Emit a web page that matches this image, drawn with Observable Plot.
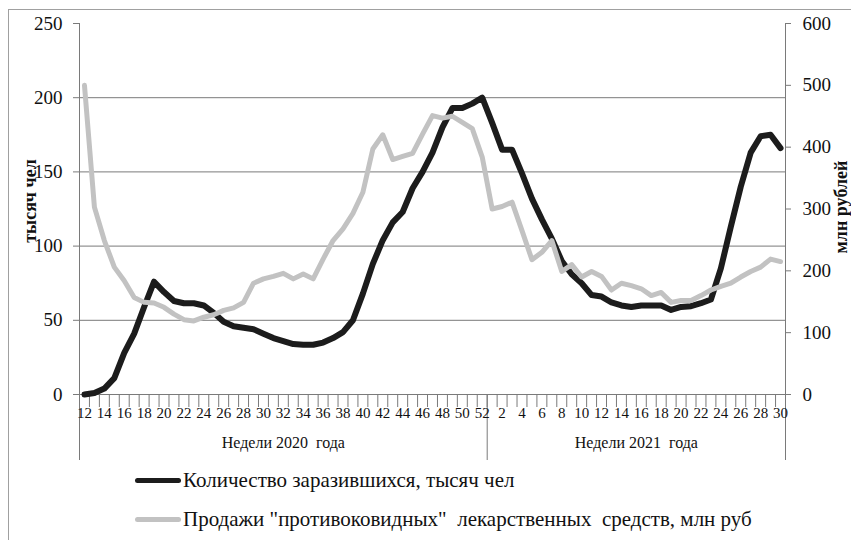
<!DOCTYPE html>
<html><head><meta charset="utf-8">
<script src="https://cdn.jsdelivr.net/npm/d3@7"></script>
<script src="https://cdn.jsdelivr.net/npm/@observablehq/plot@0.6"></script>
<style>
body{margin:0;background:#fff;}
#wrap{position:relative;width:851px;height:540px;overflow:hidden;font-family:"Liberation Serif","Times New Roman",serif;color:#111;}
#frame{position:absolute;left:8px;top:9px;width:900px;height:600px;border-top:1px solid #a0a0a0;border-left:1px solid #a0a0a0;}
#chart{position:absolute;left:0;top:0;}
.leg{position:absolute;left:135px;height:24px;font-size:21px;white-space:pre;display:flex;align-items:center;}
.sw{display:inline-block;width:46px;height:5px;border-radius:3px;margin-right:2px;}
</style></head>
<body><div id="wrap"><div id="frame"></div><div id="chart"></div></div>
<script>
// Week labels (2020 weeks 12..52, then 2021 weeks 1..30)
const weeks = [12,13,14,15,16,17,18,19,20,21,22,23,24,25,26,27,28,29,30,31,32,33,34,35,36,37,38,39,40,41,42,43,44,45,46,47,48,49,50,51,52,
               1,2,3,4,5,6,7,8,9,10,11,12,13,14,15,16,17,18,19,20,21,22,23,24,25,26,27,28,29,30];
const years = [2020,2020,2020,2020,2020,2020,2020,2020,2020,2020,2020,2020,2020,2020,2020,2020,2020,2020,2020,2020,2020,2020,2020,2020,2020,2020,2020,2020,2020,2020,2020,2020,2020,2020,2020,2020,2020,2020,2020,2020,2020,
               2021,2021,2021,2021,2021,2021,2021,2021,2021,2021,2021,2021,2021,2021,2021,2021,2021,2021,2021,2021,2021,2021,2021,2021,2021,2021,2021,2021,2021,2021];
// Infected, thousand people (left axis)
const cases = [0,1,4,11,28,41,59,76,69,63,61.5,61.5,60,55,49,46,45,44,41,38,36,34,33.5,33.5,35,38,42,50,68,88,104,116,123,139,150,163,180,193,193,196,200,
               183,165,165,149,132,118,105,90,81,75,67,66,62,60,59,60,60,60,57,59,59.5,61.5,64,85,113,140,163,174,175,166];
// Sales of "anti-covid" drugs, mln rub (right axis)
const sales = [500,303,249,206,184,157,149,148,141,130,121,119,125,129,136,140,149,180,187,191,196,187,195,187,219,249,268,293,327,397,420,380,385,390,421,451,447,450,440,430,384,
               300,304,311,265,218,230,249,199,210,190,199,191,169,180,176,171,160,165,149,152,152,160,169,175,180,190,199,206,219,215];
const leftTicks = [0,50,100,150,200,250];
const rightTicks = [0,100,200,300,400,500,600];
const gridTicks = [50,100,150,200];
const groupNames = ["Недели 2020  года","Недели 2021  года"];
const groupYears = [2020,2021];
const seriesNames = ["Количество заразившихся, тысяч чел","Продажи \"противоковидных\"  лекарственных  средств, млн руб"];
const seriesColors = ["#1c1c1c","#c2c2c2"];
const leftTitle = "тысяч чел";
const rightTitle = "млн рублей";

const LEFT_MAX = 250, RIGHT_MAX = 600;
const k = LEFT_MAX / RIGHT_MAX;
const data = weeks.map((w,i)=>({i, w, year: years[i], cases: cases[i], sales: sales[i]}));
const n = data.length;
const boundaries = d3.range(n+1).map(j=>j-0.5);
const labelIdx = d3.range(0,n,2);
const groups = groupYears.map((y,gi)=>{
  const idx = data.filter(d=>d.year===y).map(d=>d.i);
  return {name: groupNames[gi], lo: d3.min(idx)-0.5, hi: d3.max(idx)+0.5, mid: (d3.min(idx)+d3.max(idx))/2};
});
const dividers = [groups[0].lo, ...groups.map(g=>g.hi)];
const font = '"Liberation Serif","Times New Roman",serif';

const chart = Plot.plot({
  width: 851, height: 465,
  marginLeft: 79, marginRight: 66, marginTop: 23, marginBottom: 71,
  x: {type:"linear", domain:[-0.5, n-0.5], axis:null},
  y: {domain:[0, LEFT_MAX], axis:null},
  style: {fontFamily: font, background:"transparent", color:"#111", overflow:"visible"},
  marks: [
    Plot.gridY(gridTicks, {stroke:"#7a7a7a", strokeOpacity:1, strokeWidth:1}),
    Plot.ruleY([0], {stroke:"#7a7a7a", strokeWidth:1}),
    Plot.ruleX([-0.5, n-0.5], {stroke:"#7a7a7a", strokeWidth:1}),
    Plot.axisY(leftTicks, {anchor:"left", tickSize:6, tickPadding:11, fontSize:19, fontFamily:font, stroke:"#7a7a7a", label:null}),
    Plot.axisY(rightTicks.map(v=>v*k), {anchor:"right", tickSize:5, tickPadding:12, fontSize:19, fontFamily:font, stroke:"#7a7a7a", tickFormat: v=>String(Math.round(v/k)), label:null}),
    Plot.axisX(boundaries, {anchor:"bottom", tickSize:13, tickFormat:()=>"", stroke:"#7a7a7a", label:null}),
    Plot.axisX(dividers, {anchor:"bottom", tickSize:66, tickFormat:()=>"", stroke:"#7a7a7a", label:null}),
    Plot.axisX(labelIdx, {anchor:"bottom", tickSize:0, tickPadding:13, fontSize:15, fontFamily:font, tickFormat: i=>String(weeks[i]), label:null}),
    Plot.text(groups, {x:"mid", text:"name", frameAnchor:"bottom", dy:53, fontSize:16, fontFamily:font, fill:"#111"}),
    Plot.text([leftTitle], {frameAnchor:"left", textAnchor:"middle", rotate:-90, dx:-49, dy:-8, fontSize:18, fontWeight:"bold", fontFamily:font, fill:"#111"}),
    Plot.text([rightTitle], {frameAnchor:"right", textAnchor:"middle", rotate:-90, dx:56, dy:-2, fontSize:18, fontWeight:"bold", fontFamily:font, fill:"#111"}),
    Plot.line(data, {x:"i", y:"cases", stroke:seriesColors[0], strokeWidth:6, strokeLinejoin:"round", strokeLinecap:"round"}),
    Plot.line(data, {x:"i", y:d=>d.sales*k, stroke:seriesColors[1], strokeWidth:5, strokeLinejoin:"round", strokeLinecap:"round"})
  ]
});
document.getElementById("chart").appendChild(chart);

const wrap = document.getElementById("wrap");
const legTops = [468, 507];
seriesNames.forEach((name,si)=>{
  const row = document.createElement("div");
  row.className = "leg";
  row.style.top = legTops[si] + "px";
  const sw = document.createElement("span");
  sw.className = "sw";
  sw.style.background = seriesColors[si];
  row.appendChild(sw);
  row.appendChild(document.createTextNode(name));
  wrap.appendChild(row);
});
</script>
</body></html>
